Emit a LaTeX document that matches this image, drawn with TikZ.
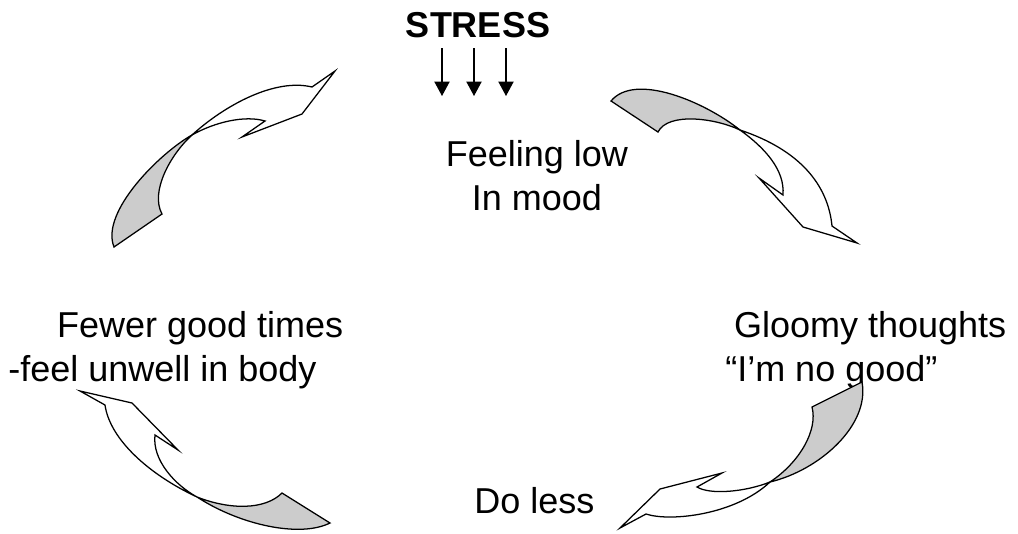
\documentclass[tikz,border=0pt]{standalone}
\usepackage{fontspec}
\setmainfont{Liberation Sans}
\usepackage{tikz}
\usetikzlibrary{arrows.meta}

\begin{document}
\begin{tikzpicture}[x=0.025cm, y=-0.025cm,
  lbl/.style={font=\fontsize{25.6}{30.6}\selectfont, inner sep=0pt},
  ribbon/.style={draw, line width=0.9pt, line join=miter},
  backside/.style={ribbon, fill=black!20},
  frontside/.style={ribbon, fill=white},
  stressarr/.style={line width=0.9pt, -{Triangle[width=0.38cm, length=0.36cm]}},
]
\useasboundingbox (0,0) rectangle (1018,533);

% labels (base = last line)
\node[lbl, anchor=base, font=\fontsize{25.6}{30.6}\selectfont\bfseries] (stress) at (478,37) {STRESS};
\node[lbl, anchor=base, align=center] (low) at (537,210) {Feeling low\\In mood};
\node[lbl, anchor=base west, align=left] (gloomy) at (725,381) {\hspace*{0.22cm}Gloomy thoughts\\“I’m no good”};
\node[lbl, anchor=base west] (doless) at (474,513) {Do less};
\node[lbl, anchor=base west, align=left] (fewer) at (8,381) {\hspace*{1.22cm}Fewer good times\\-feel unwell in body};

% stress arrows
\coordinate (s1a) at (442,48); \coordinate (s1b) at (442,96);
\coordinate (s2a) at (474,48); \coordinate (s2b) at (474,96);
\coordinate (s3a) at (506,48); \coordinate (s3b) at (506,96);
\draw[stressarr] (s1a) -- (s1b);
\draw[stressarr] (s2a) -- (s2b);
\draw[stressarr] (s3a) -- (s3b);

% top left: fewer good times -> feeling low
\path[backside] (114,247) -- (162,214) .. controls (150,192) and (170,155) .. (192,135)
  .. controls (160,153) and (100,212) .. (114,247) -- cycle;
\path[frontside] (192,135) .. controls (215,122) and (245,115) .. (265,121) -- (242,137)
  -- (302,114) -- (335,71) -- (312,87) .. controls (275,78) and (225,105) .. (192,135) -- cycle;

% top right: feeling low -> gloomy thoughts
\path[backside] (611,101) .. controls (635,72) and (705,102) .. (740,130)
  .. controls (715,118) and (668,112) .. (658,132) -- cycle;
\path[frontside] (740,130) .. controls (765,148) and (785,170) .. (783,195) -- (759,178)
  -- (803,227) -- (857,243) -- (832,226) .. controls (828,185) and (800,150) .. (740,130) -- cycle;

% bottom right: gloomy thoughts -> do less
\path[backside] (770,482) .. controls (820,470) and (870,425) .. (862,382) -- (812,407)
  .. controls (818,430) and (800,462) .. (770,482) -- cycle;
\path[frontside] (770,482) .. controls (745,492) and (710,495) .. (697,487) -- (722,473)
  -- (660,489) -- (620,528) -- (646,514) .. controls (670,522) and (735,515) .. (770,482) -- cycle;

% bottom left: do less -> fewer good times
\path[backside] (197,497) .. controls (230,510) and (265,510) .. (282,493) -- (330,523)
  .. controls (300,538) and (240,525) .. (197,497) -- cycle;
\path[frontside] (197,497) .. controls (175,485) and (152,460) .. (155,435) -- (178,450)
  -- (132,403) -- (80,391) -- (105,405) .. controls (110,440) and (150,475) .. (197,497) -- cycle;
\end{tikzpicture}
\end{document}
